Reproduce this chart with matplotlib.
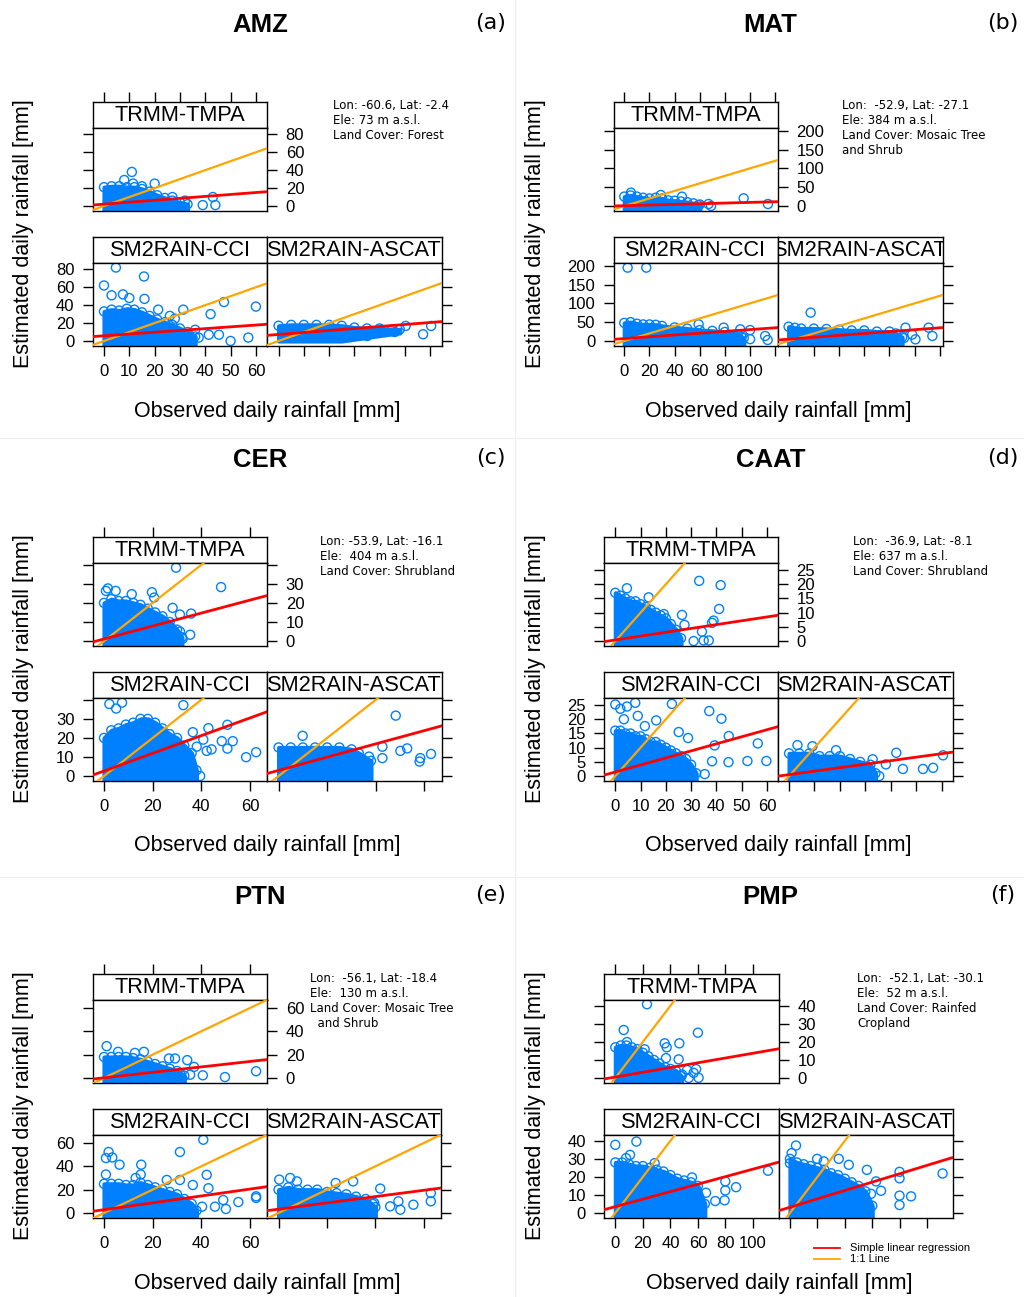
import matplotlib
matplotlib.use("Agg")
import matplotlib.pyplot as plt
from matplotlib.lines import Line2D
import numpy as np

W, H = 1024, 1297
BLUE = "#0080ff"
LATTICE = "Liberation Sans"
INFO = "DejaVu Sans"
plt.rcParams["font.family"] = [LATTICE, "DejaVu Sans"]

PANELS = ["TRMM-TMPA", "SM2RAIN-CCI", "SM2RAIN-ASCAT"]

# ---------------- AMZ (a) ----------------
AMZ_INFO = "Lon: -60.6, Lat: -2.4\nEle: 73 m a.s.l.\nLand Cover: Forest"
AMZ_XLIM = (-4.46, 64.5)
AMZ_YLIM = (-5.6, 87.4)
AMZ_XTICKS = [0, 10, 20, 30, 40, 50, 60]
AMZ_XLABELS = ["0", "10", "20", "30", "40", "50", "60"]
AMZ_YTICKS = [0, 20, 40, 60, 80]
AMZ_YLABELS = ["0", "20", "40", "60", "80"]
AMZ_FIT = [(2.06, 0.216), (5.8, 0.200), (7.3, 0.222)]  # intercept, slope
AMZ_TRMM_ENV = [(0, 21), (3, 22), (6, 22), (9, 21), (12, 21), (15, 19), (18, 16),
                (21, 12), (24, 9), (27, 6), (30, 4), (33, 2)]
AMZ_TRMM_OUT = [(8, 29), (11, 38), (11.5, 25), (15, 22), (20, 25), (27, 10),
                (32, 6), (39, 1), (43, 10), (44, 1)]
AMZ_CCI_ENV = [(0, 33), (3, 35), (6, 34), (9, 36), (12, 35), (15, 32), (18, 28),
               (21, 24), (24, 21), (27, 18), (30, 14), (33, 10), (36, 5)]
AMZ_CCI_OUT = [(0, 62), (4.7, 82), (15.8, 72), (3, 51), (7.5, 52), (10, 48), (16, 47),
               (21.4, 35), (31.3, 35), (42.1, 30), (47.4, 43.5), (60, 38.4), (57, 3.8),
               (50, 0), (41.4, 7), (37.4, 3.8), (36, 12.5), (45.4, 7), (26, 28), (28, 25)]
AMZ_ASCAT_ENV = [(0, 17), (5, 18), (10, 18), (15, 18), (20, 18), (25, 17), (30, 15),
                 (35, 14), (40, 14), (45, 13), (48, 13)]
AMZ_ASCAT_LO = [0, 0, 0, 0, 0, 0, 2, 4, 6, 8, 9]
AMZ_ASCAT_OUT = [(50.3, 16.8), (57.2, 7.5), (60.4, 16.8), (35.1, 5.5), (46, 10)]

# ---------------- MAT (b) ----------------
MAT_INFO = "Lon:  -52.9, Lat: -27.1\nEle: 384 m a.s.l.\nLand Cover: Mosaic Tree\nand Shrub"
MAT_XLIM = (-8.4, 122.2)
MAT_YLIM = (-13.3, 207.9)
MAT_XTICKS = [0, 20, 40, 60, 80, 100, 120]
MAT_XLABELS = ["0", "20", "40", "60", "80", "100", ""]
MAT_YTICKS = [0, 50, 100, 150, 200]
MAT_YLABELS = ["0", "50", "100", "150", "200"]
MAT_FIT = [(0.74, 0.088), (6.4, 0.239), (4.8, 0.252)]
MAT_TRMM_ENV = [(0, 25), (5, 28), (10, 25), (15, 22), (20, 20), (25, 22), (30, 20),
                (35, 15), (40, 14), (45, 12), (50, 10), (55, 7), (60, 4)]
MAT_TRMM_OUT = [(5.3, 35.4), (29, 29.2), (45.9, 24.8), (94.9, 20.4), (114.2, 5.3),
                (67, 5.3), (69, 0), (58.7, 2)]
MAT_CCI_ENV = [(0, 48), (5, 50), (10, 46), (15, 44), (20, 44), (25, 43), (30, 40),
               (40, 36), (50, 33), (60, 29), (70, 27), (80, 24), (90, 18), (95, 8)]
MAT_CCI_OUT = [(2.7, 194.8), (17.5, 194.8), (59.1, 44.3), (79, 35.4), (92.2, 31),
               (100, 29), (93, 12), (100, 4.8), (112, 13.3), (114, 2.7), (83, 13)]
MAT_ASCAT_ENV = [(0, 38), (5, 35), (10, 33), (20, 33), (30, 32), (40, 30), (50, 28),
                 (60, 28), (70, 25), (80, 25), (85, 20), (90, 10)]
MAT_ASCAT_OUT = [(17.5, 75.3), (92.7, 35.4), (111, 35.4), (114, 13.3), (100.6, 4.4),
                 (91.6, 8), (98, 17)]

# ---------------- CER (c) ----------------
CER_INFO = "Lon: -53.9, Lat: -16.1\nEle:  404 m a.s.l.\nLand Cover: Shrubland"
CER_XLIM = (-4.64, 67.1)
CER_YLIM = (-2.6, 41.1)
CER_XTICKS = [0, 20, 40, 60]
CER_XLABELS = ["0", "20", "40", "60"]
CER_YTICKS = [0, 10, 20, 30, 40]
CER_YLABELS = ["0", "10", "20", "30", ""]
CER_FIT = [(1.08, 0.34), (2.65, 0.464), (2.97, 0.348)]
CER_TRMM_ENV = [(0, 20), (3, 22), (6, 21), (9, 21), (12, 20), (15, 19), (18, 17),
                (21, 15), (24, 13), (27, 10), (30, 6), (32, 2)]
CER_TRMM_OUT = [(29.6, 38.5), (48.1, 28.3), (0.8, 26.3), (1.6, 27.6), (4.8, 26.3),
                (11.4, 24.6), (19.7, 25.6), (20.6, 22.8), (28.2, 17.4), (31.2, 13.9),
                (35.8, 14.4), (31.2, 5), (35.4, 3.3), (32.3, 1.2)]
CER_CCI_ENV = [(0, 20), (3, 24), (6, 25), (9, 27), (12, 28), (15, 30), (18, 30),
               (21, 28), (24, 25), (27, 22), (30, 20), (33, 16), (36, 12), (38, 3)]
CER_CCI_OUT = [(2.2, 37.8), (7.4, 38.5), (32.6, 37.2), (5, 35.4), (39.5, 0), (28.5, 2),
               (32.3, 2), (42.9, 25.1), (50.7, 26.9), (52.9, 18.3), (48.4, 18.3),
               (50.7, 14.4), (44.2, 14), (42.2, 13.2), (40.8, 19.1), (58.4, 9.9),
               (62.5, 12.5), (38.1, 15.4), (36.5, 23), (35.4, 4)]
CER_ASCAT_ENV = [(0, 15), (5, 15), (10, 15), (15, 15), (20, 15), (25, 15), (30, 14),
                 (33, 12), (38, 8)]
CER_ASCAT_OUT = [(48.2, 31.7), (9.9, 21.1), (32.5, 0.3), (42.7, 15.4), (52.9, 14.5),
                 (50.1, 13.2), (58.3, 9.4), (58, 7.6), (62.7, 11.6), (42.7, 9.4),
                 (37.2, 10.2), (21, 0.9)]

# ---------------- CAAT (d) ----------------
CAAT_INFO = "Lon:  -36.9, Lat: -8.1\nEle: 637 m a.s.l.\nLand Cover: Shrubland"
CAAT_XLIM = (-4.35, 64.4)
CAAT_YLIM = (-1.74, 27.6)
CAAT_XTICKS = [0, 10, 20, 30, 40, 50, 60]
CAAT_XLABELS = ["0", "10", "20", "30", "40", "50", "60"]
CAAT_YTICKS = [0, 5, 10, 15, 20, 25]
CAAT_YLABELS = ["0", "5", "10", "15", "20", "25"]
CAAT_FIT = [(0.39, 0.135), (1.43, 0.248), (0.5, 0.123)]
CAAT_TRMM_ENV = [(0, 17), (2, 16), (4, 15), (6, 14), (8, 14), (10, 13), (12, 12),
                 (14, 11), (16, 10), (18, 9), (20, 8), (22, 6), (24, 4), (26, 1)]
CAAT_TRMM_OUT = [(4.6, 18.6), (13.2, 15.4), (33.2, 21.2), (41.7, 19.7), (41.1, 11.3),
                 (38.9, 7.2), (38.3, 6.4), (34.3, 3.3), (26.4, 9.2), (31, 0), (35, 0.2),
                 (37, 0.2), (22.4, 0), (19.2, 9.5), (27.4, 5.7)]
CAAT_CCI_ENV = [(0, 16), (2, 16), (4, 15), (6, 15), (8, 14), (10, 14), (12, 13),
                (14, 12), (16, 12), (18, 11), (20, 10), (22, 9), (24, 8), (26, 7),
                (28, 6), (30, 4), (32, 1)]
CAAT_CCI_OUT = [(0, 25.2), (7.9, 25.8), (4.6, 24.5), (2, 23.7), (22.4, 25.4), (8.9, 21.2),
                (3.4, 20), (11.7, 17.6), (16.2, 19.6), (37.2, 22.9), (42, 20.2),
                (44.9, 14.1), (56.4, 11.5), (59.8, 5.3), (52.3, 5.3), (44.8, 4.9),
                (25.1, 15.5), (28.8, 13.4), (39.3, 10.8), (38.3, 5.2), (35.4, 0.7),
                (25.7, 0)]
CAAT_ASCAT_ENV = [(0, 8), (4, 8), (8, 8), (12, 7), (16, 7), (20, 7), (24, 6), (28, 5),
                  (32, 4), (34, 1)]
CAAT_ASCAT_OUT = [(3.3, 10.9), (9.2, 10.5), (18.5, 9.1), (42.2, 8.2), (60.6, 7.3),
                  (56.7, 2.9), (52.7, 2.5), (44.8, 2.5), (35.5, 0), (31.6, 1.2),
                  (32.9, 5.9), (38.1, 4.1)]

# ---------------- PTN (e) ----------------
PTN_INFO = "Lon:  -56.1, Lat: -18.4\nEle:  130 m a.s.l.\nLand Cover: Mosaic Tree\n  and Shrub"
PTN_XLIM = (-4.64, 67.1)
PTN_YLIM = (-4.3, 67.1)
PTN_XTICKS = [0, 20, 40, 60]
PTN_XLABELS = ["0", "20", "40", "60"]
PTN_YTICKS = [0, 20, 40, 60]
PTN_YLABELS = ["0", "20", "40", "60"]
PTN_FIT = [(0.18, 0.233), (2.8, 0.295), (3.26, 0.27)]
PTN_TRMM_ENV = [(0, 18), (3, 18), (6, 18), (9, 18), (12, 17), (15, 16), (18, 14),
                (21, 12), (24, 10), (27, 8), (30, 6), (33, 2)]
PTN_TRMM_OUT = [(1.1, 27.3), (12.7, 21.5), (16.4, 22.4), (5.8, 22.4), (26.7, 16.7),
                (29.2, 16.7), (34.2, 15.3), (37, 9.5), (35.4, 2.8), (40.6, 2.3),
                (49.7, 0.8), (62.5, 5.8), (31.2, 4)]
PTN_CCI_ENV = [(0, 25), (3, 25), (6, 25), (9, 24), (12, 24), (15, 26), (18, 24),
               (21, 22), (24, 20), (27, 18), (30, 16), (33, 12), (36, 8), (38, 2)]
PTN_CCI_OUT = [(0.8, 47.1), (1.9, 52.3), (3.4, 47.6), (6.4, 41.4), (0.8, 33), (15.3, 41.4),
               (31.2, 52.3), (40.8, 62.8), (42.2, 32.7), (42.9, 21.2), (36.5, 24),
               (25.8, 28.3), (31.2, 28.3), (55.2, 9.4), (62.5, 14.3), (62.5, 12.9),
               (50.1, 3.4), (45.6, 5.4), (49, 11.1), (40.3, 5.4), (34, 1.1), (15.1, 33),
               (13, 30)]
PTN_ASCAT_ENV = [(0, 20), (4, 22), (8, 20), (12, 20), (16, 20), (20, 18), (24, 17),
                 (28, 16), (32, 14), (36, 12), (40, 5)]
PTN_ASCAT_OUT = [(0.3, 28.6), (4.8, 30), (7.6, 27.1), (23.6, 25.7), (30.8, 27.1),
                 (42, 20.9), (55.7, 7.1), (50.3, 2.8), (46.1, 5.7), (49.5, 10),
                 (38.9, 7.7), (62.9, 17.1), (62.9, 10), (34.3, 0), (39.5, 8.6)]

# ---------------- PMP (f) ----------------
PMP_INFO = "Lon:  -52.1, Lat: -30.1\nEle:  52 m a.s.l.\nLand Cover: Rainfed\nCropland"
PMP_XLIM = (-8.0, 118.9)
PMP_YLIM = (-2.8, 43.4)
PMP_XTICKS = [0, 20, 40, 60, 80, 100]
PMP_XLABELS = ["0", "20", "40", "60", "80", "100"]
PMP_YTICKS = [0, 10, 20, 30, 40]
PMP_YLABELS = ["0", "10", "20", "30", "40"]
PMP_FIT = [(0.5, 0.132), (3.5, 0.208), (3.16, 0.2325)]
PMP_TRMM_ENV = [(0, 17), (4, 18), (8, 18), (12, 17), (16, 16), (20, 14), (24, 12),
                (28, 10), (32, 8), (36, 6), (40, 5), (44, 4), (48, 1)]
PMP_TRMM_OUT = [(23, 40.9), (6.1, 26.6), (8.5, 19.9), (60, 25.1), (35.9, 19.2),
                (37.3, 17), (46.5, 19.2), (36.8, 11), (46, 10.3), (58.7, 4.9),
                (60.5, 0.1), (53.3, 0), (48.5, 1.9), (56.9, 2.8), (52.1, 4.4),
                (38.8, 3.9), (21.3, 15.9)]
PMP_CCI_ENV = [(0, 28), (5, 28), (10, 27), (15, 26), (20, 26), (25, 25), (30, 24),
               (35, 23), (40, 21), (45, 19), (50, 18), (55, 17), (60, 15), (65, 5)]
PMP_CCI_OUT = [(0, 37.8), (15.3, 39.6), (10.7, 32.2), (7.8, 30.4), (28.6, 27.6),
               (55.7, 19.7), (79.9, 17.5), (87.7, 14.3), (79.9, 12.5), (79.4, 7),
               (110.9, 23.4), (65.9, 11.2), (53.3, 1.2), (53.3, 3), (72.6, 6.6)]
PMP_ASCAT_ENV = [(0, 30), (5, 28), (10, 27), (15, 26), (20, 25), (25, 24), (30, 22),
                 (35, 21), (40, 19), (45, 17), (50, 15), (55, 12), (60, 4)]
PMP_ASCAT_OUT = [(4.4, 37.4), (1.2, 33.2), (0, 27.6), (19.8, 30), (24.7, 28.6),
                 (35.6, 30), (42.9, 26.7), (56.1, 23.9), (62.8, 17.5), (66.4, 12.3),
                 (59.1, 10.6), (79.9, 22.8), (79.9, 19.2), (79.9, 9.6), (79.9, 4.4),
                 (88.3, 9.2), (111.3, 21.9), (55, 0), (52.6, 7.4)]

LEGEND_LABELS = ["Simple linear regression", "1:1 Line"]

# pixel rows of strips and panels inside one block
S1_TOP, S1_BOT, P1_BOT = 101.7, 127.7, 211.0
S2_TOP, S2_BOT, P2_BOT = 236.7, 262.7, 346.0

fig = plt.figure(figsize=(W / 100, H / 100), dpi=100)


def px_axes(x0, y0, x1, y1):
    return fig.add_axes([x0 / W, 1 - y1 / H, (x1 - x0) / W, (y1 - y0) / H])


def frame(ax):
    for s in ax.spines.values():
        s.set_color("black")
        s.set_linewidth(1.0)
    ax.tick_params(direction="out", length=7.2, width=1.0, color="black",
                   left=False, right=False, top=False, bottom=False,
                   labelleft=False, labelright=False, labeltop=False, labelbottom=False,
                   labelsize=12, pad=6)


def strip(ax, label):
    ax.set_facecolor("white")
    ax.set_yticks([])
    ax.text(0.5, 0.47, label, transform=ax.transAxes, ha="center", va="center",
            fontsize=15.7, clip_on=True)


def panel(ax, b, env, out, fit, lo=None):
    ax.set_xlim(b["xlim"])
    ax.set_ylim(b["ylim"])
    ex = [p[0] for p in env]
    ey = [p[1] for p in env]
    base = lo if lo is not None else [b["ylim"][0]] * len(ex)
    # dense cloud of overlapping circles: filled envelope plus its edge circles
    ax.fill_between(ex, base, ey, facecolor=BLUE, edgecolor=BLUE, linewidth=3.0,
                    joinstyle="round", zorder=2)
    ax.scatter(ex, ey, s=6.5 ** 2, facecolors="none", edgecolors=BLUE,
               linewidths=1.0, zorder=2)
    ax.scatter([p[0] for p in out], [p[1] for p in out], s=6.5 ** 2,
               facecolors="none", edgecolors=BLUE, linewidths=1.0, zorder=2)
    xx = np.array(b["xlim"])
    ax.plot(xx, xx, color="orange", lw=1.6, zorder=3)
    ax.plot(xx, fit[0] + fit[1] * xx, color="red", lw=2.0, zorder=4)


def draw_block(b):
    dy = b["dy"]
    L, M, R = b["cols"]

    # TRMM-TMPA strip, with the top axis ticks above it
    st = px_axes(L, S1_TOP + dy, M, S1_BOT + dy)
    frame(st)
    st.set_xlim(b["xlim"])
    st.set_xticks(b["xticks"])
    st.tick_params(top=True)
    strip(st, PANELS[0])

    ax = px_axes(L, S1_BOT + dy, M, P1_BOT + dy)
    panel(ax, b, b["trmm_env"], b["trmm_out"], b["fit"][0])
    ax.set_yticks(b["yticks"])
    ax.set_yticklabels(b["ylabels"])
    ax.set_xticks([])
    frame(ax)
    ax.tick_params(left=True, right=True, labelright=True)

    # bottom row
    s2 = px_axes(L, S2_TOP + dy, M, S2_BOT + dy)
    frame(s2)
    s2.set_xticks([])
    strip(s2, PANELS[1])
    s3 = px_axes(M, S2_TOP + dy, R, S2_BOT + dy)
    frame(s3)
    s3.set_xticks([])
    strip(s3, PANELS[2])

    ax = px_axes(L, S2_BOT + dy, M, P2_BOT + dy)
    panel(ax, b, b["cci_env"], b["cci_out"], b["fit"][1])
    ax.set_yticks(b["yticks"])
    ax.set_yticklabels(b["ylabels"])
    ax.set_xticks(b["xticks"])
    ax.set_xticklabels(b["xlabels"])
    frame(ax)
    ax.tick_params(left=True, labelleft=True, bottom=True, labelbottom=True)

    ax = px_axes(M, S2_BOT + dy, R, P2_BOT + dy)
    panel(ax, b, b["ascat_env"], b["ascat_out"], b["fit"][2], b.get("ascat_lo"))
    ax.set_yticks(b["yticks"])
    ax.set_xticks(b["xticks"])
    frame(ax)
    ax.tick_params(right=True, bottom=True)

    # labels and annotations
    ox = b["ox"]
    fig.text((ox + 24) / W, 1 - (234 + dy) / H, "Estimated daily rainfall [mm]",
             rotation=90, ha="center", va="center", fontsize=15.5)
    fig.text(M / W, 1 - (411 + dy) / H, "Observed daily rainfall [mm]",
             ha="center", va="center", fontsize=15.5)
    fig.text(b["title_x"] / W, 1 - (25 + dy) / H, b["name"], ha="center", va="center",
             fontsize=18.5, fontweight="bold")
    fig.text((ox + 491) / W, 1 - (23 + dy) / H, b["tag"], ha="center", va="center",
             fontsize=16, family=INFO)
    ix, iy = b["info_xy"]
    fig.text(ix / W, 1 - (iy + dy) / H, b["info"], ha="left", va="top",
             fontsize=8.5, family=INFO, linespacing=1.2)


blocks = [
    dict(name="AMZ", tag="(a)", ox=0, dy=0, cols=(92.7, 267.3, 441.5), title_x=260,
         info=AMZ_INFO, info_xy=(333, 99), xlim=AMZ_XLIM, ylim=AMZ_YLIM,
         xticks=AMZ_XTICKS, xlabels=AMZ_XLABELS, yticks=AMZ_YTICKS, ylabels=AMZ_YLABELS,
         fit=AMZ_FIT, trmm_env=AMZ_TRMM_ENV, trmm_out=AMZ_TRMM_OUT,
         cci_env=AMZ_CCI_ENV, cci_out=AMZ_CCI_OUT, ascat_env=AMZ_ASCAT_ENV,
         ascat_out=AMZ_ASCAT_OUT, ascat_lo=AMZ_ASCAT_LO),
    dict(name="MAT", tag="(b)", ox=512, dy=0, cols=(613.7, 778.0, 942.7), title_x=770,
         info=MAT_INFO, info_xy=(842, 99), xlim=MAT_XLIM, ylim=MAT_YLIM,
         xticks=MAT_XTICKS, xlabels=MAT_XLABELS, yticks=MAT_YTICKS, ylabels=MAT_YLABELS,
         fit=MAT_FIT, trmm_env=MAT_TRMM_ENV, trmm_out=MAT_TRMM_OUT,
         cci_env=MAT_CCI_ENV, cci_out=MAT_CCI_OUT, ascat_env=MAT_ASCAT_ENV,
         ascat_out=MAT_ASCAT_OUT),
    dict(name="CER", tag="(c)", ox=0, dy=435, cols=(92.7, 267.3, 441.7), title_x=260,
         info=CER_INFO, info_xy=(320, 100), xlim=CER_XLIM, ylim=CER_YLIM,
         xticks=CER_XTICKS, xlabels=CER_XLABELS, yticks=CER_YTICKS, ylabels=CER_YLABELS,
         fit=CER_FIT, trmm_env=CER_TRMM_ENV, trmm_out=CER_TRMM_OUT,
         cci_env=CER_CCI_ENV, cci_out=CER_CCI_OUT, ascat_env=CER_ASCAT_ENV,
         ascat_out=CER_ASCAT_OUT),
    dict(name="CAAT", tag="(d)", ox=512, dy=435, cols=(604.3, 778.0, 952.7), title_x=771,
         info=CAAT_INFO, info_xy=(853, 100), xlim=CAAT_XLIM, ylim=CAAT_YLIM,
         xticks=CAAT_XTICKS, xlabels=CAAT_XLABELS, yticks=CAAT_YTICKS,
         ylabels=CAAT_YLABELS, fit=CAAT_FIT, trmm_env=CAAT_TRMM_ENV,
         trmm_out=CAAT_TRMM_OUT, cci_env=CAAT_CCI_ENV, cci_out=CAAT_CCI_OUT,
         ascat_env=CAAT_ASCAT_ENV, ascat_out=CAAT_ASCAT_OUT),
    dict(name="PTN", tag="(e)", ox=0, dy=872, cols=(92.7, 267.3, 441.0), title_x=260,
         info=PTN_INFO, info_xy=(310, 100), xlim=PTN_XLIM, ylim=PTN_YLIM,
         xticks=PTN_XTICKS, xlabels=PTN_XLABELS, yticks=PTN_YTICKS, ylabels=PTN_YLABELS,
         fit=PTN_FIT, trmm_env=PTN_TRMM_ENV, trmm_out=PTN_TRMM_OUT,
         cci_env=PTN_CCI_ENV, cci_out=PTN_CCI_OUT, ascat_env=PTN_ASCAT_ENV,
         ascat_out=PTN_ASCAT_OUT),
    dict(name="PMP", tag="(f)", ox=512, dy=872, cols=(604.3, 779.0, 953.0), title_x=770,
         info=PMP_INFO, info_xy=(857, 100), xlim=PMP_XLIM, ylim=PMP_YLIM,
         xticks=PMP_XTICKS, xlabels=PMP_XLABELS, yticks=PMP_YTICKS, ylabels=PMP_YLABELS,
         fit=PMP_FIT, trmm_env=PMP_TRMM_ENV, trmm_out=PMP_TRMM_OUT,
         cci_env=PMP_CCI_ENV, cci_out=PMP_CCI_OUT, ascat_env=PMP_ASCAT_ENV,
         ascat_out=PMP_ASCAT_OUT),
]

# faint separators between the six blocks
fig.add_artist(Line2D([515 / W, 515 / W], [0, 1], color="#eeeeee", lw=0.8))
for yy in (438, 877):
    fig.add_artist(Line2D([0, 1], [1 - yy / H, 1 - yy / H], color="#eeeeee", lw=0.8))

for b in blocks:
    draw_block(b)

# legend in panel (f)
for yy, col, lab in zip((1247.7, 1259.3), ("red", "orange"), LEGEND_LABELS):
    fig.add_artist(Line2D([813.7 / W, 840.3 / W], [1 - yy / H, 1 - yy / H], color=col, lw=1.3))
    fig.text(850 / W, 1 - yy / H, lab, ha="left", va="center", fontsize=8,
             family=["Liberation Sans Narrow", "Liberation Sans"])

fig.savefig("out.png", dpi=100, facecolor="white")
